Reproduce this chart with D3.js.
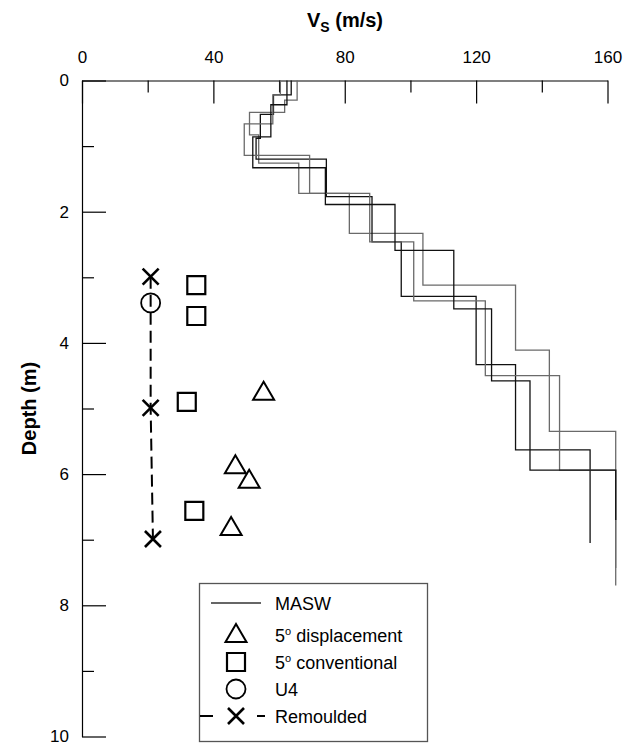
<!DOCTYPE html>
<html>
<head>
<meta charset="utf-8">
<script src="https://cdn.jsdelivr.net/npm/d3@7"></script>
<style>
  body { margin: 0; background: #fff; }
  svg { display: block; font-family: "Liberation Sans", Arial, sans-serif; }
  .tick text { fill: #000; }
  .axis path, .axis line { stroke: #000; stroke-width: 1.2; }
</style>
</head>
<body>
<div id="chart"></div>
<script>
// MASW shear wave velocity profiles: layer velocity (m/s) and layer bottom depth (m)
var maswA_vs    = [65.5, 61.7, 51.0, 53.8, 66.0, 81.4, 103.8, 132.0, 142.3, 162.5];
var maswA_depth = [0.30, 0.485, 0.83, 1.26, 1.72, 2.33, 3.12, 4.11, 5.35, 7.70];
var maswB_vs    = [63.7, 58.3, 54.3, 53.0, 74.4, 88.3, 97.2, 120.0, 132.0, 154.7];
var maswB_depth = [0.22, 0.515, 0.88, 1.20, 1.77, 2.46, 3.29, 4.33, 5.63, 7.05];
var maswC_vs    = [60.4, 58.1, 49.4, 69.3, 87.6, 101.0, 122.8, 145.4, 162.5];
var maswC_depth = [0.22, 0.66, 1.14, 1.72, 2.46, 3.36, 4.50, 5.94, 7.43];
var maswD_vs    = [62.4, 57.5, 52.0, 74.1, 95.3, 113.2, 124.7, 136.4, 162.5];
var maswD_depth = [0.37, 0.86, 1.33, 1.89, 2.59, 3.48, 4.58, 5.94, 6.70];

// laboratory points
var displacement_vs    = [55.3, 46.7, 50.9, 45.4];
var displacement_depth = [4.76, 5.88, 6.10, 6.82];
var conventional_vs    = [34.8, 34.8, 31.9, 34.2];
var conventional_depth = [3.12, 3.59, 4.90, 6.56];
var u4_vs    = [20.9];
var u4_depth = [3.39];
var remoulded_vs    = [20.9, 20.9, 21.6];
var remoulded_depth = [2.99, 4.99, 6.99];

var xMajor = [0, 40, 80, 120, 160];
var xMinor = [20, 60, 100, 140];
var yMajor = [0, 2, 4, 6, 8, 10];
var yMinor = [1, 3, 5, 7, 9];

var width = 625, height = 747;

var x = d3.scaleLinear().domain([0, 160]).range([82, 607.5]);
var y = d3.scaleLinear().domain([0, 10]).range([80.5, 736.5]);

var svg = d3.select('#chart').append('svg')
    .attr('width', width)
    .attr('height', height);

// axes (top and left only, ticks pointing inward)
svg.append('g')
    .attr('class', 'axis')
    .attr('transform', 'translate(0,' + y(0) + ')')
    .call(d3.axisTop(x).tickValues(xMajor).tickSizeInner(-23).tickSizeOuter(0).tickPadding(18));

svg.append('g')
    .attr('class', 'axis')
    .attr('transform', 'translate(0,' + y(0) + ')')
    .call(d3.axisTop(x).tickValues(xMinor).tickSize(-12).tickFormat(''))
    .call(function(g){ g.select('.domain').remove(); });

svg.append('g')
    .attr('class', 'axis')
    .attr('transform', 'translate(' + x(0) + ',0)')
    .call(d3.axisLeft(y).tickValues(yMajor).tickSizeInner(-24).tickSizeOuter(0).tickPadding(13));

svg.append('g')
    .attr('class', 'axis')
    .attr('transform', 'translate(' + x(0) + ',0)')
    .call(d3.axisLeft(y).tickValues(yMinor).tickSize(-12).tickFormat(''))
    .call(function(g){ g.select('.domain').remove(); });

svg.selectAll('.axis .tick text')
    .attr('font-size', 17)
    .attr('font-family', '"Liberation Sans", Arial, sans-serif');

// axis titles
var title = svg.append('text')
    .attr('x', 345).attr('y', 27)
    .attr('text-anchor', 'middle')
    .attr('font-weight', 'bold')
    .attr('font-size', 20);
title.append('tspan').text('V');
title.append('tspan').attr('font-size', 14).attr('dy', 5).text('S');
title.append('tspan').attr('dy', -5).text(' (m/s)');

svg.append('text')
    .attr('transform', 'translate(36,' + y(5) + ') rotate(-90)')
    .attr('text-anchor', 'middle')
    .attr('font-weight', 'bold')
    .attr('font-size', 20)
    .text('Depth (m)');

// step profile points from layers
function stepPoints(vs, depth) {
  var pts = [], top = 0;
  vs.forEach(function(v, i){
    pts.push([v, top]);
    pts.push([v, depth[i]]);
    top = depth[i];
  });
  return pts;
}

var line = d3.line()
    .x(function(d){ return x(d[0]); })
    .y(function(d){ return y(d[1]); });

var profiles = [
  { vs: maswA_vs, depth: maswA_depth, color: '#6a6a6a' },
  { vs: maswB_vs, depth: maswB_depth, color: '#111' },
  { vs: maswC_vs, depth: maswC_depth, color: '#6a6a6a' },
  { vs: maswD_vs, depth: maswD_depth, color: '#111' }
];

svg.append('g').selectAll('path')
  .data(profiles)
  .enter().append('path')
    .attr('fill', 'none')
    .attr('stroke', function(d){ return d.color; })
    .attr('stroke-width', 1.3)
    .attr('d', function(d){ return line(stepPoints(d.vs, d.depth)); });

// marker symbols
var triPath = 'M0,-11L10.5,7L-10.5,7Z';
var sqPath  = 'M-9,-9H9V9H-9Z';
var xPath   = 'M-8,-8L8,8M-8,8L8,-8';

function zip(a, b){ return a.map(function(v, i){ return [v, b[i]]; }); }

var remData = zip(remoulded_vs, remoulded_depth);

svg.append('path')
    .datum(remData)
    .attr('fill', 'none')
    .attr('stroke', '#000')
    .attr('stroke-width', 2)
    .attr('stroke-dasharray', '12,6')
    .attr('d', line);

svg.append('g').selectAll('path')
  .data(zip(displacement_vs, displacement_depth))
  .enter().append('path')
    .attr('transform', function(d){ return 'translate(' + x(d[0]) + ',' + y(d[1]) + ')'; })
    .attr('d', triPath)
    .attr('fill', 'none').attr('stroke', '#000').attr('stroke-width', 2);

svg.append('g').selectAll('path')
  .data(zip(conventional_vs, conventional_depth))
  .enter().append('path')
    .attr('transform', function(d){ return 'translate(' + x(d[0]) + ',' + y(d[1]) + ')'; })
    .attr('d', sqPath)
    .attr('fill', 'none').attr('stroke', '#000').attr('stroke-width', 2.2);

svg.append('g').selectAll('circle')
  .data(zip(u4_vs, u4_depth))
  .enter().append('circle')
    .attr('cx', function(d){ return x(d[0]); })
    .attr('cy', function(d){ return y(d[1]); })
    .attr('r', 9.5)
    .attr('fill', 'none').attr('stroke', '#000').attr('stroke-width', 1.8);

svg.append('g').selectAll('path')
  .data(remData)
  .enter().append('path')
    .attr('transform', function(d){ return 'translate(' + x(d[0]) + ',' + y(d[1]) + ')'; })
    .attr('d', xPath)
    .attr('fill', 'none').attr('stroke', '#000').attr('stroke-width', 2.6);

// legend
var legend = svg.append('g');
legend.append('rect')
    .attr('x', 199.5).attr('y', 583.5)
    .attr('width', 228).attr('height', 158)
    .attr('fill', '#fff').attr('stroke', '#555').attr('stroke-width', 1.3);

var symX = 236, textX = 275;
var rows = [
  { label: 'MASW', y: 603 },
  { label: 'displacement', y: 635, deg: true },
  { label: 'conventional', y: 662, deg: true },
  { label: 'U4', y: 689 },
  { label: 'Remoulded', y: 716 }
];

legend.append('line')
    .attr('x1', 211).attr('x2', 261)
    .attr('y1', rows[0].y).attr('y2', rows[0].y)
    .attr('stroke', '#333').attr('stroke-width', 1.3);
legend.append('path')
    .attr('transform', 'translate(' + symX + ',' + rows[1].y + ')')
    .attr('d', triPath).attr('fill', 'none').attr('stroke', '#000').attr('stroke-width', 2);
legend.append('path')
    .attr('transform', 'translate(' + symX + ',' + rows[2].y + ')')
    .attr('d', sqPath).attr('fill', 'none').attr('stroke', '#000').attr('stroke-width', 2.2);
legend.append('circle')
    .attr('cx', symX).attr('cy', rows[3].y).attr('r', 9.5)
    .attr('fill', 'none').attr('stroke', '#000').attr('stroke-width', 1.8);
legend.append('line')
    .attr('x1', 200).attr('x2', 265)
    .attr('y1', rows[4].y).attr('y2', rows[4].y)
    .attr('stroke', '#000').attr('stroke-width', 2)
    .attr('stroke-dasharray', '13,44');
legend.append('path')
    .attr('transform', 'translate(' + symX + ',' + rows[4].y + ')')
    .attr('d', xPath).attr('fill', 'none').attr('stroke', '#000').attr('stroke-width', 2.6);

rows.forEach(function(r){
  var t = legend.append('text')
      .attr('x', textX).attr('y', r.y + 6.5)
      .attr('font-size', 18);
  if (r.deg) {
    t.append('tspan').text('5');
    t.append('tspan').attr('font-size', 11).attr('dy', -7).text('o');
    t.append('tspan').attr('dy', 7).text(' ' + r.label);
  } else {
    t.text(r.label);
  }
});
</script>
</body>
</html>
